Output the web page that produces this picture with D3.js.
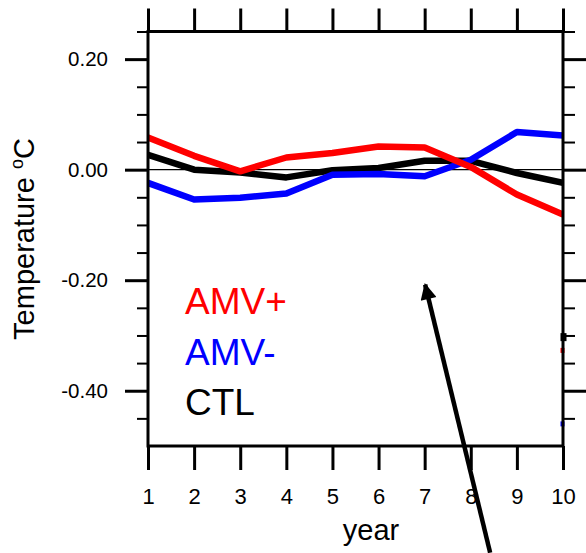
<!DOCTYPE html>
<html>
<head>
<meta charset="utf-8">
<script src="https://cdn.jsdelivr.net/npm/d3@7"></script>
<style>
  body { margin: 0; background: #fff; }
  text { font-family: "Liberation Sans", Arial, Helvetica, sans-serif; }
</style>
</head>
<body>
<script>
// data
const years = [1, 2, 3, 4, 5, 6, 7, 8, 9, 10];
const amvPlus  = [0.058, 0.025, -0.003, 0.022, 0.030, 0.042, 0.040, 0.005, -0.045, -0.081];
const amvMinus = [-0.024, -0.054, -0.051, -0.043, -0.009, -0.008, -0.012, 0.018, 0.068, 0.062];
const ctl      = [0.027, 0.000, -0.005, -0.014, -0.001, 0.003, 0.016, 0.016, -0.006, -0.024];
const seriesNames = ["AMV+", "AMV-", "CTL"];
const seriesColors = ["#ff0000", "#0000ff", "#000000"];
// little stubs sitting on the right frame at year 10
const edgeVals = [-0.327, -0.46, -0.303];
const yMajor = [0.2, 0.0, -0.2, -0.4];
const yMinor = [0.25, 0.15, 0.1, 0.05, -0.05, -0.1, -0.15, -0.25, -0.3, -0.35, -0.45];
// annotation arrow, in data units: tail then tip
const arrowFrom = [8.42, -0.693];
const arrowTo = [7.01, -0.208];

const W = 586, H = 553;
const pLeft = 148, pRight = 563, pTop = 31.5, pBottom = 446;

const svg = d3.select("body").append("svg")
  .attr("width", W)
  .attr("height", H);

const x = d3.scaleLinear().domain([1, 10]).range([pLeft, pRight]);
const y = d3.scaleLinear().domain([-0.5, 0.25]).range([pBottom, pTop]);

// defs
const defs = svg.append("defs");
defs.append("clipPath").attr("id", "plotclip")
  .append("rect")
  .attr("x", pLeft).attr("y", pTop)
  .attr("width", pRight - pLeft).attr("height", pBottom - pTop);

defs.append("marker")
  .attr("id", "head")
  .attr("viewBox", "0 0 10 10")
  .attr("refX", 9).attr("refY", 5)
  .attr("markerWidth", 4).attr("markerHeight", 3.6)
  .attr("markerUnits", "strokeWidth")
  .attr("orient", "auto")
  .append("path").attr("d", "M0,0 L10,5 L0,10 Z").attr("fill", "#000");

// zero line
svg.append("line")
  .attr("x1", pLeft).attr("x2", pRight)
  .attr("y1", y(0)).attr("y2", y(0))
  .attr("stroke", "#000").attr("stroke-width", 1.2);

// series
const line = d3.line()
  .x((d, i) => x(years[i]))
  .y(d => y(d));

const gLines = svg.append("g").attr("clip-path", "url(#plotclip)");
const allSeries = [amvPlus, amvMinus, ctl];
[2, 1, 0].forEach(k => {
  gLines.append("path")
    .datum(allSeries[k])
    .attr("d", line)
    .attr("fill", "none")
    .attr("stroke", seriesColors[k])
    .attr("stroke-width", 6.5)
    .attr("stroke-linejoin", "round");
});

// stubs on the right edge
edgeVals.forEach((v, k) => {
  svg.append("rect")
    .attr("x", x(10) - 2.5)
    .attr("y", y(v) - (k == 2 ? 4 : 2.5))
    .attr("width", k == 2 ? 6 : 4)
    .attr("height", k == 2 ? 8 : 5)
    .attr("fill", seriesColors[k]);
});

// axes
function styleAxis(g, w) {
  g.select(".domain").remove();
  g.selectAll(".tick line").attr("stroke", "#000").attr("stroke-width", w);
  g.selectAll("text").attr("fill", "#000");
}

svg.append("g")
  .attr("transform", `translate(0,${pBottom})`)
  .call(d3.axisBottom(x).tickValues(years).tickSize(24).tickPadding(18).tickFormat(d3.format("d")))
  .call(g => styleAxis(g, 3))
  .selectAll("text").attr("font-size", 22);

svg.append("g")
  .attr("transform", `translate(0,${pTop})`)
  .call(d3.axisTop(x).tickValues(years).tickSize(23).tickFormat(""))
  .call(g => styleAxis(g, 3));

svg.append("g")
  .attr("transform", `translate(${pLeft},0)`)
  .call(d3.axisLeft(y).tickValues(yMajor).tickSize(23).tickPadding(17).tickFormat(d3.format(".2f")))
  .call(g => styleAxis(g, 3))
  .selectAll("text").attr("font-size", 20.5)
  .text(d => d3.format(".2f")(d).replace("−", "-"));

svg.append("g")
  .attr("transform", `translate(${pLeft},0)`)
  .call(d3.axisLeft(y).tickValues(yMinor).tickSize(11).tickFormat(""))
  .call(g => styleAxis(g, 2));

svg.append("g")
  .attr("transform", `translate(${pRight},0)`)
  .call(d3.axisRight(y).tickValues(yMajor).tickSize(23).tickFormat(""))
  .call(g => styleAxis(g, 3));

svg.append("g")
  .attr("transform", `translate(${pRight},0)`)
  .call(d3.axisRight(y).tickValues(yMinor).tickSize(12).tickFormat(""))
  .call(g => styleAxis(g, 2));

// frame
svg.append("rect")
  .attr("x", pLeft).attr("y", pTop)
  .attr("width", pRight - pLeft).attr("height", pBottom - pTop)
  .attr("fill", "none")
  .attr("stroke", "#000").attr("stroke-width", 3);

// axis titles
svg.append("text")
  .attr("x", 371).attr("y", 540)
  .attr("text-anchor", "middle")
  .attr("font-size", 29)
  .text("year");

const ylab = svg.append("text")
  .attr("transform", "translate(34,239) rotate(-90)")
  .attr("text-anchor", "middle")
  .attr("font-size", 29);
ylab.append("tspan").text("Temperature ");
ylab.append("tspan").attr("font-size", 18).attr("dy", -11).text("o");
ylab.append("tspan").attr("dy", 11).text("C");

// legend
seriesNames.forEach((name, k) => {
  svg.append("text")
    .attr("x", 185)
    .attr("y", 314 + k * 50.5)
    .attr("font-size", 37)
    .attr("fill", seriesColors[k])
    .text(name);
});

// arrow
svg.append("line")
  .attr("x1", x(arrowFrom[0])).attr("y1", y(arrowFrom[1]))
  .attr("x2", x(arrowTo[0])).attr("y2", y(arrowTo[1]))
  .attr("stroke", "#000").attr("stroke-width", 4.5)
  .attr("marker-end", "url(#head)");
</script>
</body>
</html>
